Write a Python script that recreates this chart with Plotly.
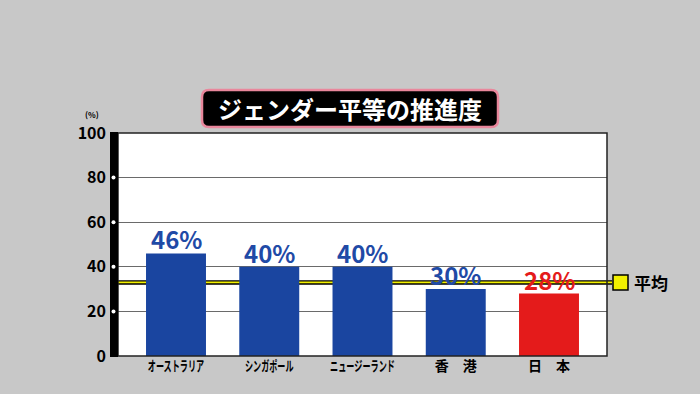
import plotly.graph_objects as go

categories = ["オーストラリア", "シンガポール", "ニュージーランド", "香　港", "日　本"]
values = [46, 40, 40, 30, 28]
bar_colors = ["#1a45a0", "#1a45a0", "#1a45a0", "#1a45a0", "#e41b1b"]
label_colors = ["#1f4aa6", "#1f4aa6", "#1f4aa6", "#1f4aa6", "#e41b1b"]
average = 33
average_label = "平均"
title_text = "ジェンダー平等の推進度"
y_ticks = [0, 20, 40, 60, 80, 100]

FONT = "Noto Sans CJK JP"
W, H = 700, 394
L, R, T, B = 118, 93, 133, 38
pw, ph = W - L - R, H - T - B

def px_x(p):
    return (p - L) / pw

def px_y(p):
    return (H - B - p) / ph

fig = go.Figure()
fig.add_trace(go.Bar(
    x=list(range(len(categories))), y=values,
    marker=dict(color=bar_colors, line=dict(width=0)),
    width=0.643,
    showlegend=False,
    hoverinfo="skip",
))

shapes = []
shapes.append(dict(type="line", xref="paper", yref="y", x0=0, x1=px_x(612), y0=average, y1=average,
                   line=dict(color="black", width=4.5), layer="below"))
shapes.append(dict(type="line", xref="paper", yref="y", x0=0, x1=px_x(612), y0=average, y1=average,
                   line=dict(color="#f2f000", width=1.6), layer="below"))
shapes.append(dict(type="rect", xref="paper", yref="paper", x0=0, x1=1, y0=0, y1=1,
                   line=dict(color="#222", width=1.5), layer="above"))
shapes.append(dict(type="rect", xref="paper", yref="paper", xsizemode="pixel", xanchor=0,
                   x0=-8, x1=0, y0=-0.005, y1=1.005, fillcolor="black", line=dict(width=0), layer="above"))
for t in y_ticks[1:-1]:
    shapes.append(dict(type="circle", xref="paper", yref="y", xsizemode="pixel", ysizemode="pixel",
                       xanchor=0, yanchor=t, x0=-6.5, x1=-2.5, y0=-2, y1=2,
                       fillcolor="white", line=dict(width=0), layer="above"))
shapes.append(dict(type="rect", xref="paper", yref="y", xsizemode="pixel", ysizemode="pixel",
                   xanchor=1, yanchor=average, x0=6, x1=21, y0=-7.5, y1=7.5,
                   fillcolor="#f2f000", line=dict(color="black", width=1.5), layer="above"))

def rounded(x0p, y0p, x1p, y1p, r):
    a, b, c, d = px_x(x0p), px_x(x1p), px_y(y0p), px_y(y1p)
    rx, ry = r / pw, r / ph
    return (f"M {a+rx},{c} L {b-rx},{c} Q {b},{c} {b},{c-ry} L {b},{d+ry} Q {b},{d} {b-rx},{d} "
            f"L {a+rx},{d} Q {a},{d} {a},{d+ry} L {a},{c-ry} Q {a},{c} {a+rx},{c} Z")

shapes.append(dict(type="path", xref="paper", yref="paper", path=rounded(202, 90, 498, 127, 7),
                   fillcolor="black", line=dict(color="#e9879c", width=2.5), layer="above"))

annotations = [
    dict(text=title_text, xref="paper", yref="paper", x=px_x(350), y=px_y(108.5), showarrow=False,
         font=dict(family=FONT, size=24, color="white", weight="bold"), xanchor="center", yanchor="middle"),
    dict(text=average_label, xref="paper", yref="y", x=1, y=average, xshift=25, showarrow=False,
         xanchor="left", yanchor="middle", font=dict(family=FONT, size=17, color="black", weight="bold")),
    dict(text="(%)", xref="paper", yref="paper", x=0, y=1, xshift=-26, yshift=19, showarrow=False,
         xanchor="center", yanchor="middle", font=dict(family=FONT, size=8, color="black", weight="bold")),
]
for i, (v, c) in enumerate(zip(values, label_colors)):
    annotations.append(dict(text=f"{v}%", x=i, y=v, xref="x", yref="y", showarrow=False,
                            xanchor="center", yanchor="bottom", yshift=-5,
                            font=dict(family=FONT, size=24, color=c, weight="bold")))

fig.update_layout(
    width=W, height=H,
    margin=dict(l=L, r=R, t=T, b=B, pad=0, autoexpand=False),
    paper_bgcolor="#c8c8c8",
    plot_bgcolor="white",
    shapes=shapes,
    annotations=annotations,
    xaxis=dict(
        tickmode="array", tickvals=list(range(len(categories))), ticktext=categories,
        range=[-0.622, 4.622], showgrid=False, zeroline=False, showline=False, ticks="",
        tickangle=0, automargin=False,
        tickfont=dict(family=FONT, size=14, color="black", weight="bold"),
    ),
    yaxis=dict(
        range=[0, 100], tickvals=y_ticks, showgrid=True, gridcolor="#6a6a6a", gridwidth=1,
        zeroline=False, showline=False, ticks="", ticklabelstandoff=11, automargin=False,
        tickfont=dict(family=FONT, size=16, color="black", weight="bold"),
    ),
)

post = """
document.body.style.margin='0';
var gd=document.getElementById('{plot_id}');
function condense(){
  gd.querySelectorAll('.xtick text').forEach(function(t){
    var tr=t.getAttribute('transform')||'';
    if(t.textContent.length>3 && tr.indexOf('scale')<0){
      t.setAttribute('transform', tr+' scale(0.58,1)');
    }
  });
}
condense();
gd.on('plotly_afterplot', condense);
"""

fig.write_html("out.html", post_script=post, config={"displayModeBar": False})
